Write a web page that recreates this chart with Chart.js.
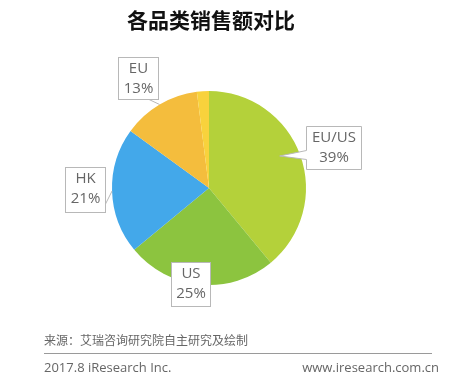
<!DOCTYPE html>
<html>
<head>
<meta charset="utf-8">
<script src="https://cdn.jsdelivr.net/npm/chart.js@4"></script>
<style>
html,body{margin:0;padding:0;background:#fff;}
#wrap{width:470px;height:381px;position:relative;}
</style>
</head>
<body>
<div id="wrap"><canvas id="c" width="470" height="381"></canvas></div>
<script>
const title = "各品类销售额对比";
const categories = ["EU/US", "US", "HK", "EU", "其他"];
const shares = [39, 25, 21, 13, 2];
const percentLabels = ["39%", "25%", "21%", "13%", ""];
const colors = ["#b4d13a", "#8cc43f", "#43a8ea", "#f4bd3d", "#f8d23c"];
const sourceText = "来源：艾瑞咨询研究院自主研究及绘制";
const footLeft = "2017.8 iResearch Inc.";
const footRight = "www.iresearch.com.cn";

// callout box layout (label boxes), index matches categories
const boxes = {
  0: {x: 306, y: 126, w: 55, h: 43, type: "bubble"},
  1: {x: 171, y: 262, w: 39, h: 44, type: "none"},
  2: {x: 65, y: 167, w: 40, h: 45, type: "line", from: [105, 205]},
  3: {x: 118, y: 57, w: 40, h: 42, type: "line", from: [148, 99]}
};

const overlay = {
  id: "overlay",
  afterDraw(chart) {
    const ctx = chart.ctx;
    ctx.save();
    // title
    ctx.fillStyle = "#111";
    ctx.font = "bold 21px 'Noto Sans CJK SC'";
    ctx.textAlign = "center";
    ctx.textBaseline = "middle";
    ctx.fillText(title, 211, 20);

    const meta = chart.getDatasetMeta(0);
    Object.keys(boxes).forEach(k => {
      const i = +k;
      const b = boxes[k];
      const arc = meta.data[i];
      const mid = (arc.startAngle + arc.endAngle) / 2;
      ctx.strokeStyle = "#b8b8b8";
      ctx.lineWidth = 1;
      ctx.fillStyle = "#fff";
      if (b.type === "bubble") {
        const r = arc.outerRadius * 0.8;
        const tx = arc.x + Math.cos(mid - 0.08) * r;
        const ty = arc.y + Math.sin(mid - 0.08) * r;
        ctx.beginPath();
        ctx.moveTo(b.x + 0.5, b.y + 0.5);
        ctx.lineTo(b.x + b.w + 0.5, b.y + 0.5);
        ctx.lineTo(b.x + b.w + 0.5, b.y + b.h + 0.5);
        ctx.lineTo(b.x + 0.5, b.y + b.h + 0.5);
        ctx.lineTo(b.x + 0.5, b.y + 33.5);
        ctx.lineTo(tx, ty);
        ctx.lineTo(b.x + 0.5, b.y + 24.5);
        ctx.closePath();
        ctx.fill();
        ctx.stroke();
      } else {
        if (b.type === "line") {
          const ax = arc.x + Math.cos(mid) * arc.outerRadius;
          const ay = arc.y + Math.sin(mid) * arc.outerRadius;
          ctx.beginPath();
          ctx.moveTo(b.from[0], b.from[1]);
          ctx.lineTo(ax, ay);
          ctx.stroke();
        }
        ctx.fillRect(b.x, b.y, b.w, b.h);
        ctx.strokeRect(b.x + 0.5, b.y + 0.5, b.w, b.h);
      }
      ctx.fillStyle = "#666";
      ctx.font = "15px 'Open Sans'";
      ctx.textAlign = "center";
      ctx.textBaseline = "middle";
      const cx = b.x + b.w / 2 + 0.5;
      ctx.fillText(categories[i], cx, b.y + 12);
      ctx.fillText(percentLabels[i], cx, b.y + 32);
    });

    // footer
    ctx.fillStyle = "#666";
    ctx.textAlign = "left";
    ctx.textBaseline = "middle";
    ctx.font = "12px 'Noto Sans CJK SC'";
    ctx.fillText(sourceText, 44, 340);
    ctx.strokeStyle = "#9a9a9a";
    ctx.lineWidth = 1;
    ctx.beginPath();
    ctx.moveTo(44, 353.5);
    ctx.lineTo(432, 353.5);
    ctx.stroke();
    ctx.font = "13px 'Open Sans'";
    ctx.fillText(footLeft, 44, 368);
    ctx.textAlign = "right";
    ctx.fillText(footRight, 439, 368);
    ctx.restore();
  }
};

new Chart(document.getElementById("c"), {
  type: "pie",
  data: {
    labels: categories,
    datasets: [{
      data: shares,
      backgroundColor: colors,
      borderWidth: 0
    }]
  },
  options: {
    responsive: false,
    animation: false,
    layout: {padding: {top: 91, bottom: 96, left: 112, right: 164}},
    plugins: {legend: {display: false}, tooltip: {enabled: false}, title: {display: false}}
  },
  plugins: [overlay]
});
</script>
</body>
</html>
